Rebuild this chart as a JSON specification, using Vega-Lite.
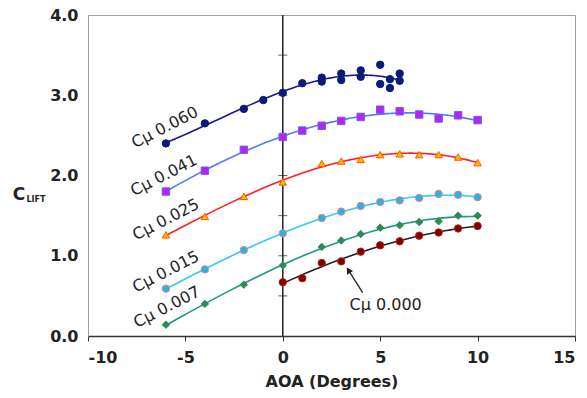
{
  "$schema": "https://vega.github.io/schema/vega-lite/v6.json",
  "width": 487,
  "height": 321,
  "autosize": {"type": "none"},
  "padding": {"left": 88, "top": 15, "right": 12, "bottom": 62},
  "background": "white",
  "config": {
    "view": {"stroke": "#a0a0a0", "strokeWidth": 1},
    "axis": {"grid": false, "labelFont": "DejaVu Sans", "labelFontWeight": "bold", "labelFontSize": 16, "labelColor": "#222", "titleFont": "DejaVu Sans", "titleFontWeight": "bold", "titleFontSize": 16, "titleColor": "#222"}
  },
  "datasets": {
    "pts": [
      {"s": "0.060", "x": -6, "y": 2.40}, {"s": "0.060", "x": -4, "y": 2.65}, {"s": "0.060", "x": -2, "y": 2.83}, {"s": "0.060", "x": -1, "y": 2.94}, {"s": "0.060", "x": 0, "y": 3.03}, {"s": "0.060", "x": 1, "y": 3.15}, {"s": "0.060", "x": 2, "y": 3.22}, {"s": "0.060", "x": 2, "y": 3.17}, {"s": "0.060", "x": 3, "y": 3.27}, {"s": "0.060", "x": 3, "y": 3.19}, {"s": "0.060", "x": 4, "y": 3.31}, {"s": "0.060", "x": 4, "y": 3.23}, {"s": "0.060", "x": 5, "y": 3.38}, {"s": "0.060", "x": 5, "y": 3.14}, {"s": "0.060", "x": 5.5, "y": 3.20}, {"s": "0.060", "x": 5.5, "y": 3.09}, {"s": "0.060", "x": 6, "y": 3.27}, {"s": "0.060", "x": 6, "y": 3.18},
      {"s": "0.041", "x": -6, "y": 1.80}, {"s": "0.041", "x": -4, "y": 2.06}, {"s": "0.041", "x": -2, "y": 2.32}, {"s": "0.041", "x": 0, "y": 2.48}, {"s": "0.041", "x": 1, "y": 2.56}, {"s": "0.041", "x": 2, "y": 2.62}, {"s": "0.041", "x": 3, "y": 2.68}, {"s": "0.041", "x": 4, "y": 2.73}, {"s": "0.041", "x": 5, "y": 2.82}, {"s": "0.041", "x": 6, "y": 2.80}, {"s": "0.041", "x": 7, "y": 2.76}, {"s": "0.041", "x": 8, "y": 2.71}, {"s": "0.041", "x": 9, "y": 2.75}, {"s": "0.041", "x": 10, "y": 2.69},
      {"s": "0.025", "x": -6, "y": 1.26}, {"s": "0.025", "x": -4, "y": 1.49}, {"s": "0.025", "x": -2, "y": 1.74}, {"s": "0.025", "x": 0, "y": 1.92}, {"s": "0.025", "x": 2, "y": 2.15}, {"s": "0.025", "x": 3, "y": 2.18}, {"s": "0.025", "x": 4, "y": 2.20}, {"s": "0.025", "x": 5, "y": 2.26}, {"s": "0.025", "x": 6, "y": 2.27}, {"s": "0.025", "x": 7, "y": 2.26}, {"s": "0.025", "x": 8, "y": 2.26}, {"s": "0.025", "x": 9, "y": 2.23}, {"s": "0.025", "x": 10, "y": 2.16},
      {"s": "0.015", "x": -6, "y": 0.59}, {"s": "0.015", "x": -4, "y": 0.83}, {"s": "0.015", "x": -2, "y": 1.07}, {"s": "0.015", "x": 0, "y": 1.28}, {"s": "0.015", "x": 2, "y": 1.47}, {"s": "0.015", "x": 3, "y": 1.55}, {"s": "0.015", "x": 4, "y": 1.62}, {"s": "0.015", "x": 5, "y": 1.67}, {"s": "0.015", "x": 6, "y": 1.69}, {"s": "0.015", "x": 7, "y": 1.72}, {"s": "0.015", "x": 8, "y": 1.77}, {"s": "0.015", "x": 9, "y": 1.76}, {"s": "0.015", "x": 10, "y": 1.73},
      {"s": "0.007", "x": -6, "y": 0.14}, {"s": "0.007", "x": -4, "y": 0.40}, {"s": "0.007", "x": -2, "y": 0.64}, {"s": "0.007", "x": 0, "y": 0.88}, {"s": "0.007", "x": 2, "y": 1.11}, {"s": "0.007", "x": 3, "y": 1.19}, {"s": "0.007", "x": 4, "y": 1.27}, {"s": "0.007", "x": 5, "y": 1.35}, {"s": "0.007", "x": 6, "y": 1.38}, {"s": "0.007", "x": 7, "y": 1.42}, {"s": "0.007", "x": 8, "y": 1.43}, {"s": "0.007", "x": 9, "y": 1.50}, {"s": "0.007", "x": 10, "y": 1.50},
      {"s": "0.000", "x": 0, "y": 0.67}, {"s": "0.000", "x": 1, "y": 0.72}, {"s": "0.000", "x": 2, "y": 0.91}, {"s": "0.000", "x": 3, "y": 0.93}, {"s": "0.000", "x": 4, "y": 1.05}, {"s": "0.000", "x": 5, "y": 1.13}, {"s": "0.000", "x": 6, "y": 1.18}, {"s": "0.000", "x": 7, "y": 1.25}, {"s": "0.000", "x": 8, "y": 1.29}, {"s": "0.000", "x": 9, "y": 1.34}, {"s": "0.000", "x": 10, "y": 1.37}
    ],
    "lbl": [
      {"t": "Cμ 0.060", "x": -6.05, "y": 2.60},
      {"t": "Cμ 0.041", "x": -6.1, "y": 2.0},
      {"t": "Cμ 0.025", "x": -6.0, "y": 1.45},
      {"t": "Cμ 0.015", "x": -6.0, "y": 0.80},
      {"t": "Cμ 0.007", "x": -5.95, "y": 0.36}
    ],
    "tk": [{"x": 0, "y": 0.5}, {"x": 0, "y": 1.0}, {"x": 0, "y": 1.5}, {"x": 0, "y": 2.0}, {"x": 0, "y": 2.5}, {"x": 0, "y": 3.0}, {"x": 0, "y": 3.5}]
  },
  "encoding": {
    "x": {"field": "x", "type": "quantitative", "scale": {"domain": [-10, 15], "nice": false, "zero": false},
      "axis": {"title": "AOA (Degrees)", "values": [-10, -5, 0, 5, 10, 15], "labelExpr": "replace(datum.label, '−', '-')", "domainColor": "#333", "domainWidth": 1.5, "tickColor": "#333", "tickSize": 5, "labelPadding": 8, "titlePadding": 8}},
    "y": {"field": "y", "type": "quantitative", "scale": {"domain": [0, 4], "nice": false},
      "axis": {"title": null, "values": [0, 1, 2, 3, 4], "format": ".1f", "domainColor": "#a0a0a0", "ticks": false, "labelPadding": 10}}
  },
  "layer": [
    {
      "data": {"values": [{"x": 0, "y": 0, "y2": 4}]},
      "mark": {"type": "rule", "color": "#222", "strokeWidth": 1.5},
      "encoding": {"y2": {"field": "y2"}}
    },
    {
      "data": {"name": "tk"},
      "mark": {"type": "tick", "orient": "horizontal", "color": "#222", "size": 9, "thickness": 1}
    },
    {
      "data": {"name": "pts"},
      "transform": [{"regression": "y", "on": "x", "groupby": ["s"], "method": "poly", "order": 3}],
      "mark": {"type": "line", "strokeWidth": 1.6},
      "encoding": {
        "color": {"field": "s", "type": "nominal", "legend": null,
          "scale": {"domain": ["0.060", "0.041", "0.025", "0.015", "0.007", "0.000"], "range": ["#1a1a8c", "#5577ff", "#ff2020", "#33ccf5", "#1f9985", "#222222"]}}
      }
    },
    {
      "data": {"name": "pts"},
      "mark": {"type": "point", "filled": true, "opacity": 1, "size": 55, "strokeWidth": 1},
      "encoding": {
        "shape": {"field": "s", "type": "nominal", "legend": null,
          "scale": {"domain": ["0.060", "0.041", "0.025", "0.015", "0.007", "0.000"], "range": ["circle", "square", "triangle-up", "circle", "diamond", "circle"]}},
        "fill": {"field": "s", "type": "nominal", "legend": null,
          "scale": {"domain": ["0.060", "0.041", "0.025", "0.015", "0.007", "0.000"], "range": ["#0c1a7a", "#bb22ee", "#ffbb00", "#22b5e8", "#2e8b57", "#7a0000"]}},
        "stroke": {"field": "s", "type": "nominal", "legend": null,
          "scale": {"domain": ["0.060", "0.041", "0.025", "0.015", "0.007", "0.000"], "range": ["#0c1a7a", "#6060ff", "#ff5500", "#f08080", "#2e8b57", "#c02020"]}}
      }
    },
    {
      "data": {"name": "lbl"},
      "mark": {"type": "text", "angle": -27, "font": "DejaVu Sans", "fontSize": 16, "color": "#222", "align": "center", "baseline": "middle"},
      "encoding": {"text": {"field": "t"}}
    },
    {
      "data": {"values": [{"t": "Cμ 0.000", "x": 5.28, "y": 0.386}]},
      "mark": {"type": "text", "font": "DejaVu Sans", "fontSize": 16, "color": "#222", "align": "center", "baseline": "middle"},
      "encoding": {"text": {"field": "t"}}
    },
    {
      "data": {"values": [{"x": 4.10, "y": 0.54, "x2": 3.32, "y2": 0.84}]},
      "mark": {"type": "rule", "color": "#222", "strokeWidth": 1.3},
      "encoding": {"x2": {"field": "x2"}, "y2": {"field": "y2"}}
    },
    {
      "data": {"values": [{"x": 3.37, "y": 0.82}]},
      "mark": {"type": "point", "shape": "triangle-up", "filled": true, "color": "#222", "opacity": 1, "size": 50, "angle": -32}
    },
    {
      "data": {"values": [{"t": "C", "x": -13.54, "y": 1.76}]},
      "mark": {"type": "text", "font": "DejaVu Sans", "fontWeight": "bold", "fontSize": 17, "color": "#222", "align": "center", "baseline": "middle"},
      "encoding": {"text": {"field": "t"}}
    },
    {
      "data": {"values": [{"t": "LIFT", "x": -12.67, "y": 1.69}]},
      "mark": {"type": "text", "font": "DejaVu Sans", "fontWeight": "bold", "fontSize": 8, "color": "#222", "align": "center", "baseline": "middle"},
      "encoding": {"text": {"field": "t"}}
    }
  ]
}
